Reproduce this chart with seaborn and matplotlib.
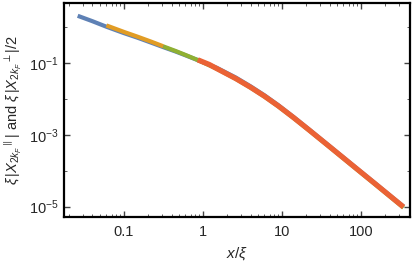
import numpy as np
import pandas as pd
import seaborn as sns
import matplotlib
matplotlib.use("Agg")
from matplotlib import pyplot as plt
from matplotlib import ticker

# values (log-log)
x_blue = [0.026, 0.04, 0.06, 0.1, 0.15, 0.22, 0.315, 0.45, 0.6, 0.9, 1.5, 2.6, 4, 6, 9, 14, 22, 40, 80, 150, 345]
y_blue = [2.1, 1.48, 1.04, 0.69, 0.51, 0.375, 0.28, 0.212, 0.166, 0.117, 0.074, 0.0398, 0.0226, 0.0127, 0.0067, 0.00316, 0.00142, 4.85e-4, 1.39e-4, 4.5e-5, 1.0e-5]

x_orange = [0.06, 0.1, 0.15, 0.22, 0.315]
y_orange = [1.13, 0.745, 0.545, 0.40, 0.296]

x_green = [0.315, 0.45, 0.6, 0.9, 1.5, 2.6, 4, 6, 9, 14, 22, 40, 80, 150, 345]
y_green = [0.294, 0.219, 0.17, 0.117, 0.0695, 0.0365, 0.0208, 0.0117, 0.0062, 0.00295, 0.00133, 4.55e-4, 1.3e-4, 4.2e-5, 9.3e-6]

x_red = [0.86, 1.2, 1.5, 2.6, 4, 6, 9, 14, 22, 40, 80, 150, 345]
y_red = [0.124, 0.092, 0.0705, 0.0373, 0.0213, 0.012, 0.0064, 0.00304, 0.00137, 4.7e-4, 1.35e-4, 4.37e-5, 9.7e-6]

yticks = [1e-1, 1e-3, 1e-5]
ytick_labels = [r"$10^{-1}$", r"$10^{-3}$", r"$10^{-5}$"]
xticks = [0.1, 1, 10, 100]
xtick_labels = ["0.1", "1", "10", "100"]

sns.set_style("ticks")
plt.rcParams['font.family'] = ['Liberation Sans', 'DejaVu Sans']
plt.rcParams['mathtext.fontset'] = 'custom'
plt.rcParams['mathtext.rm'] = 'Liberation Sans'
plt.rcParams['mathtext.it'] = 'Liberation Sans:italic'
plt.rcParams['mathtext.sf'] = 'Liberation Sans'

fig = plt.figure(figsize=(4.15, 2.65), dpi=100)
ax = fig.add_axes([0.154, 0.181, 0.834, 0.808])

sns.lineplot(x=x_blue, y=y_blue, ax=ax, color="#5E81B5", lw=3.0, estimator=None, sort=False)
sns.lineplot(x=x_orange, y=y_orange, ax=ax, color="#E19C24", lw=3.0, estimator=None, sort=False)
sns.lineplot(x=x_green, y=y_green, ax=ax, color="#8FB032", lw=3.0, estimator=None, sort=False)
sns.lineplot(x=x_red, y=y_red, ax=ax, color="#EB6235", lw=3.8, estimator=None, sort=False)
for l in ax.get_lines():
    l.set_solid_capstyle('butt')
    l.set_solid_joinstyle('round')

ax.set_xscale('log')
ax.set_yscale('log')
ax.set_xlim(0.0174, 417)
ax.set_ylim(5.1e-6, 4.8)

ax.xaxis.set_major_locator(ticker.FixedLocator(xticks))
ax.xaxis.set_major_formatter(ticker.FixedFormatter(xtick_labels))
ax.xaxis.set_minor_locator(ticker.LogLocator(base=10, subs=np.arange(2, 10)))
ax.xaxis.set_minor_formatter(ticker.NullFormatter())
ax.yaxis.set_major_locator(ticker.FixedLocator(yticks))
ax.yaxis.set_major_formatter(ticker.FixedFormatter(ytick_labels))
ax.yaxis.set_minor_locator(ticker.FixedLocator([1e0, 1e-2, 1e-4]))
ax.yaxis.set_minor_formatter(ticker.NullFormatter())

ax.tick_params(which='both', direction='in', top=True, right=True, labelsize=10.5, color='#444444')
ax.tick_params(axis='x', pad=6)
ax.tick_params(axis='y', pad=4)
ax.tick_params(which='major', length=4, width=1.0)
ax.tick_params(which='minor', length=2, width=0.6)
for s in ax.spines.values():
    s.set_linewidth(1.6)
    s.set_color('black')

ax.set_xlabel(r"$x/\xi$", fontsize=11, labelpad=4)
ax.set_ylabel(r"$\xi\,|X_{2k_F}{}^{\parallel}|$ and $\xi\,|X_{2k_F}{}^{\perp}|/2$", fontsize=10.5, labelpad=3)

plt.savefig("out.png", dpi=100)
